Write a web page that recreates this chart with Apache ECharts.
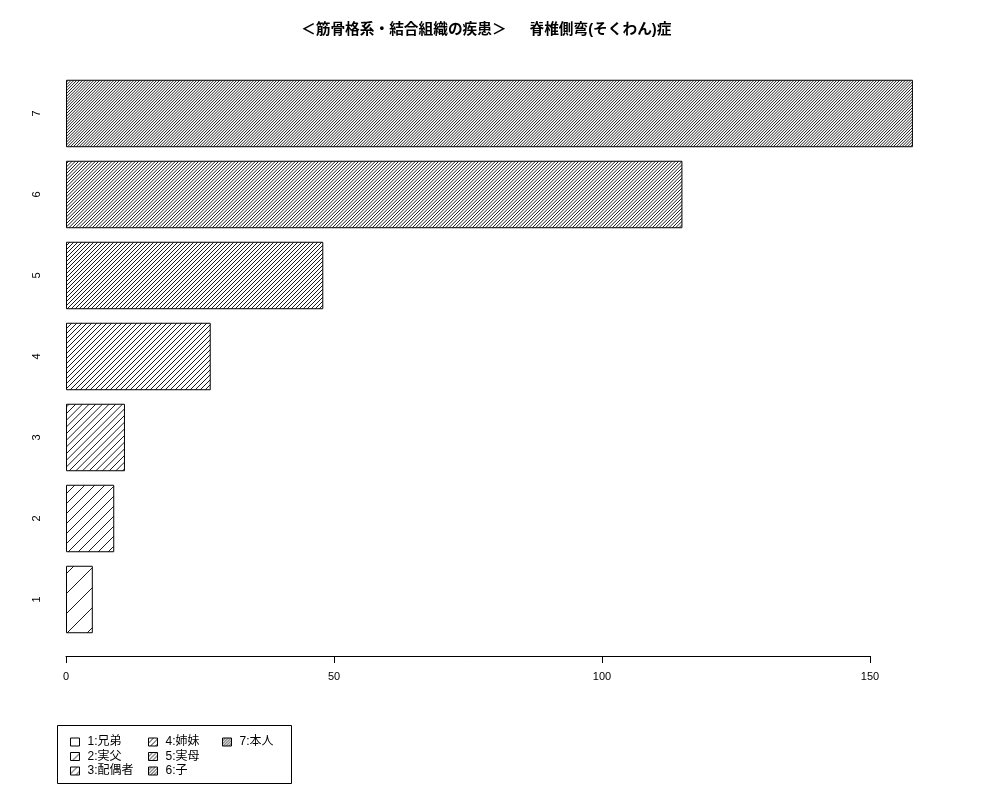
<!DOCTYPE html>
<html>
<head>
<meta charset="utf-8">
<script src="https://cdn.jsdelivr.net/npm/echarts@6/dist/echarts.min.js"></script>
<style>html,body{margin:0;padding:0;background:#fff;}#c{width:1000px;height:800px;}</style>
</head>
<body>
<div id="c"></div>
<script>
const titleText = '＜筋骨格系・結合組織の疾患＞ 　 脊椎側弯(そくわん)症';
const categories = ['1', '2', '3', '4', '5', '6', '7'];
const values = [5, 9, 11, 27, 48, 115, 158];
const seriesNames = ['1:兄弟', '2:実父', '3:配偶者', '4:姉妹', '5:実母', '6:子', '7:本人'];
const xTicks = [0, 50, 100, 150];

const FONT = '"Liberation Sans", Arial, "Noto Sans CJK JP", sans-serif';
const chart = echarts.init(document.getElementById('c'), null, {renderer: 'canvas'});

// hatch tile: k diagonal "/" lines per 20px tile (style only)
function hatchTile(k) {
  const T = 20;
  const p = T / k;
  const cv = document.createElement('canvas');
  cv.width = T; cv.height = T;
  const ctx = cv.getContext('2d');
  ctx.fillStyle = '#fff';
  ctx.fillRect(0, 0, T, T);
  ctx.strokeStyle = '#000';
  ctx.lineWidth = 0.9;
  ctx.beginPath();
  for (let s = -2 * p; s <= 2 * T + 2 * p; s += p) {
    ctx.moveTo(s + 1, -1);
    ctx.lineTo(s - T - 1, T + 1);
  }
  ctx.stroke();
  return {image: cv, repeat: 'repeat'};
}

const series = seriesNames.map((name, i) => ({
  name: name,
  type: 'bar',
  xAxisIndex: 0,
  yAxisIndex: 0,
  barGap: '-100%',
  barCategoryGap: '16.7%',
  data: categories.map((c, j) => (j === i ? values[i] : '-')),
  itemStyle: {
    color: hatchTile(i + 1),
    borderColor: '#000',
    borderWidth: 1
  },
  emphasis: {disabled: true},
  animation: false
}));

const legendCols = [[0, 1, 2], [3, 4, 5], [6]];
const legendLefts = [65, 143, 217];
const legends = legendCols.map((idx, ci) => ({
  orient: 'vertical',
  left: legendLefts[ci],
  top: 731,
  itemWidth: 9,
  itemHeight: 8,
  itemGap: 2.5,
  icon: 'rect',
  data: idx.map(i => seriesNames[i]),
  itemStyle: {borderColor: '#000', borderWidth: 1},
  textStyle: {fontSize: 12, color: '#000', fontFamily: FONT, padding: [0, 0, 0, 3]},
  selectedMode: false
}));

chart.setOption({
  backgroundColor: '#fff',
  animation: false,
  title: {
    text: titleText,
    left: 296,
    top: 18,
    textStyle: {fontSize: 14.7, fontWeight: 'bold', color: '#000', fontFamily: FONT}
  },
  legend: legends,
  graphic: [{
    type: 'rect',
    shape: {x: 57.5, y: 725.5, width: 234, height: 58},
    style: {fill: 'none', stroke: '#000', lineWidth: 1},
    silent: true
  }],
  grid: [
    {left: 66, width: 880.8, top: 73, height: 567},
    {left: 66, width: 804, top: 600, height: 56}
  ],
  xAxis: [
    {type: 'value', gridIndex: 0, min: 0, max: 164.32, show: false},
    {
      type: 'value', gridIndex: 1, min: 0, max: 150, interval: 50,
      position: 'bottom',
      axisLine: {show: true, lineStyle: {color: '#000', width: 1}},
      axisTick: {show: true, length: 7, lineStyle: {color: '#000'}},
      axisLabel: {fontSize: 11, color: '#000', fontFamily: FONT, margin: 15,
        customValues: xTicks},
      splitLine: {show: false}
    }
  ],
  yAxis: [
    {
      type: 'category', gridIndex: 0, data: categories,
      axisLine: {show: false}, axisTick: {show: false},
      axisLabel: {rotate: 90, fontSize: 11, color: '#000', fontFamily: FONT, margin: 24},
      splitLine: {show: false}
    },
    {type: 'value', gridIndex: 1, show: false, min: 0, max: 1}
  ],
  series: series
});
</script>
</body>
</html>
